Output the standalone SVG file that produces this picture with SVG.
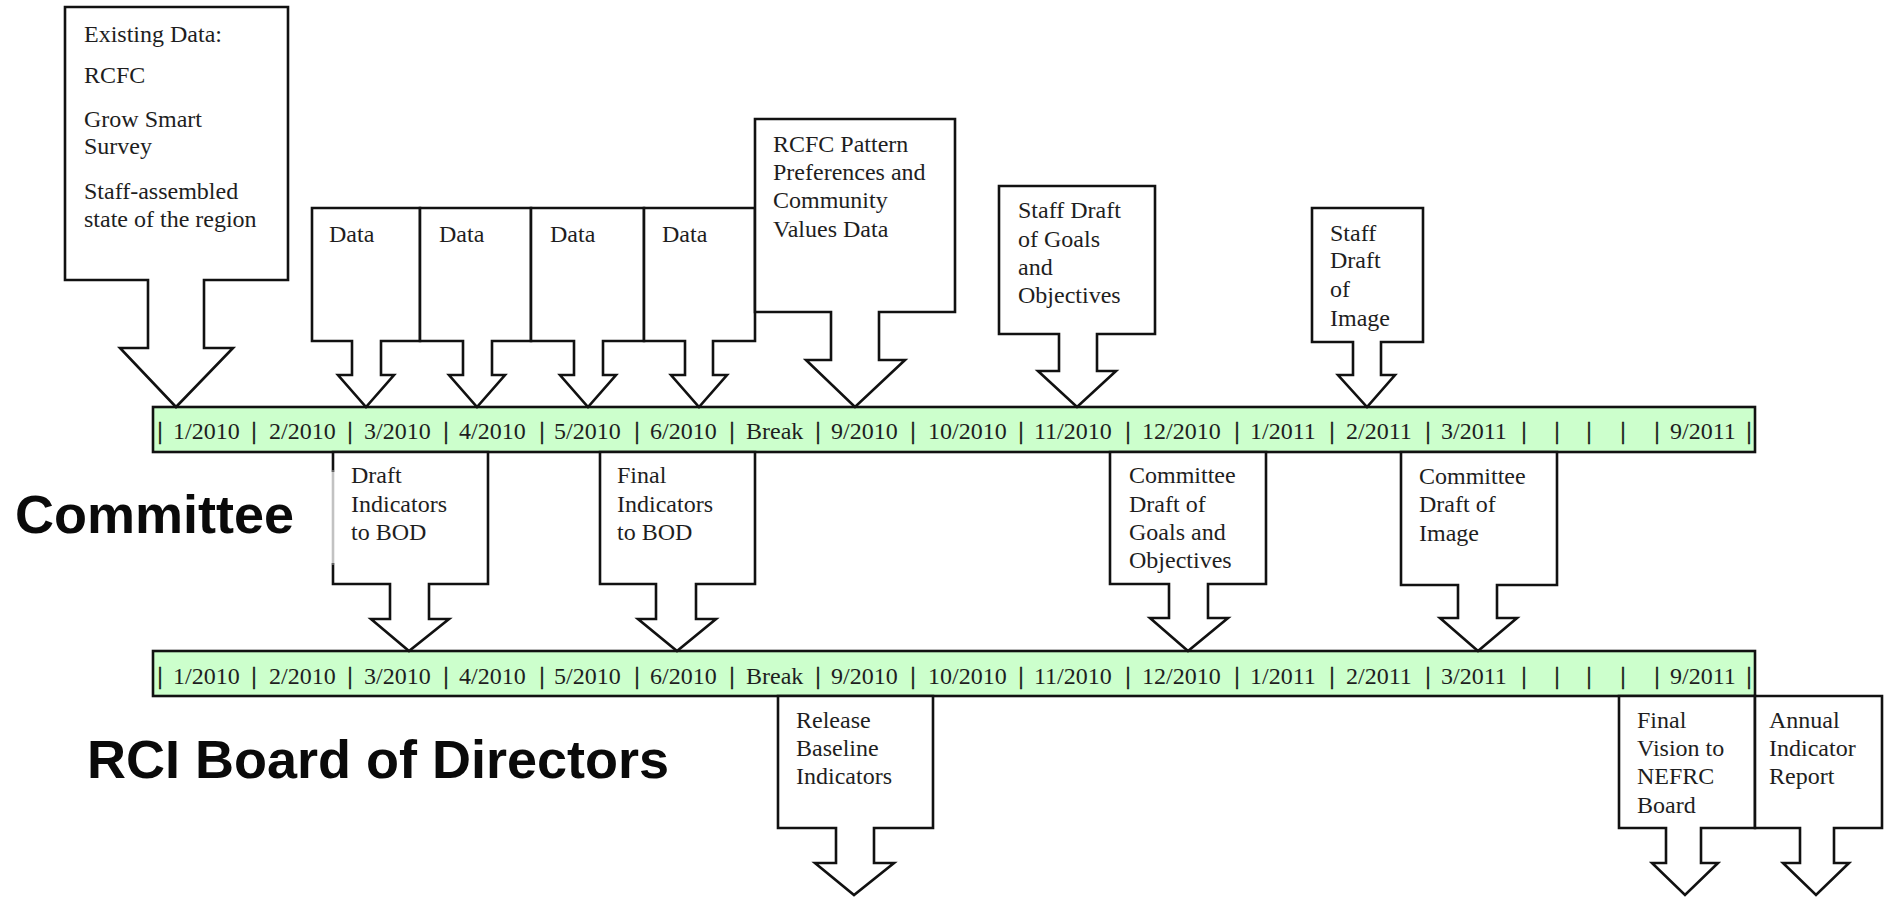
<svg xmlns="http://www.w3.org/2000/svg" width="1894" height="897" viewBox="0 0 1894 897">
<style>
.box{fill:#fff;stroke:#111;stroke-width:2.6;stroke-linejoin:miter}
.tl{fill:#ccffcc;stroke:#111;stroke-width:2.6}
.t{font-family:"Liberation Serif","Times New Roman",serif;font-size:24px;fill:#1e1e1e}
.sep{font-family:"Liberation Serif","Times New Roman",serif;font-size:25px;fill:#1e1e1e;stroke:#1e1e1e;stroke-width:0.7;text-anchor:middle}
.big{font-family:"Liberation Sans",Arial,sans-serif;font-size:54px;font-weight:bold;fill:#0a0a0a}
</style>
<rect width="1894" height="897" fill="#fff"/>
<g id="connectors"></g>

<!-- Top timeline -->
<g id="timeline-committee">
<rect class="tl" x="153" y="407" width="1602" height="45"/>
<g class="sep">
<text x="160" y="439">|</text><text x="254" y="439">|</text><text x="350" y="439">|</text><text x="446" y="439">|</text><text x="542" y="439">|</text><text x="637" y="439">|</text><text x="732" y="439">|</text><text x="818" y="439">|</text><text x="913" y="439">|</text><text x="1021" y="439">|</text><text x="1128" y="439">|</text><text x="1237" y="439">|</text><text x="1332" y="439">|</text><text x="1428" y="439">|</text><text x="1524" y="439">|</text><text x="1557" y="439">|</text><text x="1589" y="439">|</text><text x="1623" y="439">|</text><text x="1657" y="439">|</text><text x="1749" y="439">|</text>
</g>
<g class="t">
<text x="173" y="439">1/2010</text><text x="269" y="439">2/2010</text><text x="364" y="439">3/2010</text><text x="459" y="439">4/2010</text><text x="554" y="439">5/2010</text><text x="650" y="439">6/2010</text><text x="746" y="439">Break</text><text x="831" y="439">9/2010</text><text x="928" y="439">10/2010</text><text x="1034" y="439">11/2010</text><text x="1142" y="439">12/2010</text><text x="1250" y="439">1/2011</text><text x="1346" y="439">2/2011</text><text x="1441" y="439">3/2011</text><text x="1670" y="439">9/2011</text>
</g>
</g>

<!-- Bottom timeline -->
<g id="timeline-board">
<rect class="tl" x="153" y="651" width="1602" height="45"/>
<g class="sep">
<text x="160" y="684">|</text><text x="254" y="684">|</text><text x="350" y="684">|</text><text x="446" y="684">|</text><text x="542" y="684">|</text><text x="637" y="684">|</text><text x="732" y="684">|</text><text x="818" y="684">|</text><text x="913" y="684">|</text><text x="1021" y="684">|</text><text x="1128" y="684">|</text><text x="1237" y="684">|</text><text x="1332" y="684">|</text><text x="1428" y="684">|</text><text x="1524" y="684">|</text><text x="1557" y="684">|</text><text x="1589" y="684">|</text><text x="1623" y="684">|</text><text x="1657" y="684">|</text><text x="1749" y="684">|</text>
</g>
<g class="t">
<text x="173" y="684">1/2010</text><text x="269" y="684">2/2010</text><text x="364" y="684">3/2010</text><text x="459" y="684">4/2010</text><text x="554" y="684">5/2010</text><text x="650" y="684">6/2010</text><text x="746" y="684">Break</text><text x="831" y="684">9/2010</text><text x="928" y="684">10/2010</text><text x="1034" y="684">11/2010</text><text x="1142" y="684">12/2010</text><text x="1250" y="684">1/2011</text><text x="1346" y="684">2/2011</text><text x="1441" y="684">3/2011</text><text x="1670" y="684">9/2011</text>
</g>
</g>

<!-- Row labels -->
<g id="label-committee"><text class="big" x="15" y="533">Committee</text></g>
<g id="label-board"><text class="big" x="87" y="778">RCI Board of Directors</text></g>

<!-- Top callouts -->
<g id="existing-data">
<path class="box" d="M65,7 H288 V280 H204 V348 H233 L176,407 L120,348 H148 V280 H65 Z"/>
<g class="t"><text x="84" y="42">Existing Data:</text><text x="84" y="83">RCFC</text><text x="84" y="127">Grow Smart</text><text x="84" y="154">Survey</text><text x="84" y="199">Staff-assembled</text><text x="84" y="227">state of the region</text></g>
</g>
<g id="data-1">
<path class="box" d="M312,208 H420 V341 H381 V375 H394 L366,407 L338,375 H352 V341 H312 Z"/>
<text class="t" x="329" y="242">Data</text>
</g>
<g id="data-2">
<path class="box" d="M420,208 H531 V341 H492 V375 H505 L477,407 L449,375 H463 V341 H420 Z"/>
<text class="t" x="439" y="242">Data</text>
</g>
<g id="data-3">
<path class="box" d="M531,208 H644 V341 H603 V375 H616 L588,407 L560,375 H574 V341 H531 Z"/>
<text class="t" x="550" y="242">Data</text>
</g>
<g id="data-4">
<path class="box" d="M644,208 H755 V341 H713 V375 H727 L699,407 L671,375 H685 V341 H644 Z"/>
<text class="t" x="662" y="242">Data</text>
</g>
<g id="rcfc-pattern">
<path class="box" d="M755,119 H955 V312 H879 V360 H905 L855,407 L806,360 H831 V312 H755 Z"/>
<g class="t"><text x="773" y="152">RCFC Pattern</text><text x="773" y="180">Preferences and</text><text x="773" y="208">Community</text><text x="773" y="237">Values Data</text></g>
</g>
<g id="staff-goals">
<path class="box" d="M999,186 H1155 V334 H1097 V371 H1116 L1077,407 L1038,371 H1059 V334 H999 Z"/>
<g class="t"><text x="1018" y="218">Staff Draft</text><text x="1018" y="247">of Goals</text><text x="1018" y="275">and</text><text x="1018" y="303">Objectives</text></g>
</g>
<g id="staff-image">
<path class="box" d="M1312,208 H1423 V342 H1381 V375 H1395 L1367,407 L1338,375 H1353 V342 H1312 Z"/>
<g class="t"><text x="1330" y="241">Staff</text><text x="1330" y="268">Draft</text><text x="1330" y="297">of</text><text x="1330" y="326">Image</text></g>
</g>

<!-- Committee row callouts -->
<g id="draft-indicators">
<path class="box" d="M333,452 H488 V584 H429 V619 H449 L409,651 L371,619 H390 V584 H333 Z"/>
<line x1="333" y1="472" x2="333" y2="563" stroke="#fff" stroke-width="3.5"/>
<line x1="333" y1="470" x2="333" y2="565" stroke="#999" stroke-width="1.2"/>
<g class="t"><text x="351" y="483">Draft</text><text x="351" y="512">Indicators</text><text x="351" y="540">to BOD</text></g>
</g>
<g id="final-indicators">
<path class="box" d="M600,452 H755 V584 H696 V619 H716 L677,651 L638,619 H656 V584 H600 Z"/>
<g class="t"><text x="617" y="483">Final</text><text x="617" y="512">Indicators</text><text x="617" y="540">to BOD</text></g>
</g>
<g id="committee-goals">
<path class="box" d="M1110,452 H1266 V584 H1208 V618 H1228 L1188,651 L1150,618 H1169 V584 H1110 Z"/>
<g class="t"><text x="1129" y="483">Committee</text><text x="1129" y="512">Draft of</text><text x="1129" y="540">Goals and</text><text x="1129" y="568">Objectives</text></g>
</g>
<g id="committee-image">
<path class="box" d="M1401,452 H1557 V585 H1497 V618 H1517 L1478,651 L1440,618 H1458 V585 H1401 Z"/>
<g class="t"><text x="1419" y="484">Committee</text><text x="1419" y="512">Draft of</text><text x="1419" y="541">Image</text></g>
</g>

<!-- Board row callouts -->
<g id="release-baseline">
<path class="box" d="M778,696 H933 V828 H874 V863 H894 L854,895 L815,863 H836 V828 H778 Z"/>
<g class="t"><text x="796" y="728">Release</text><text x="796" y="756">Baseline</text><text x="796" y="784">Indicators</text></g>
</g>
<g id="final-vision">
<path class="box" d="M1619,696 H1755 V828 H1701 V863 H1718 L1685,895 L1652,863 H1666 V828 H1619 Z"/>
<g class="t"><text x="1637" y="728">Final</text><text x="1637" y="756">Vision to</text><text x="1637" y="784">NEFRC</text><text x="1637" y="813">Board</text></g>
</g>
<g id="annual-report">
<path class="box" d="M1755,696 H1882 V828 H1834 V863 H1849 L1816,895 L1783,863 H1800 V828 H1755 Z"/>
<g class="t"><text x="1769" y="728">Annual</text><text x="1769" y="756">Indicator</text><text x="1769" y="784">Report</text></g>
</g>
</svg>
